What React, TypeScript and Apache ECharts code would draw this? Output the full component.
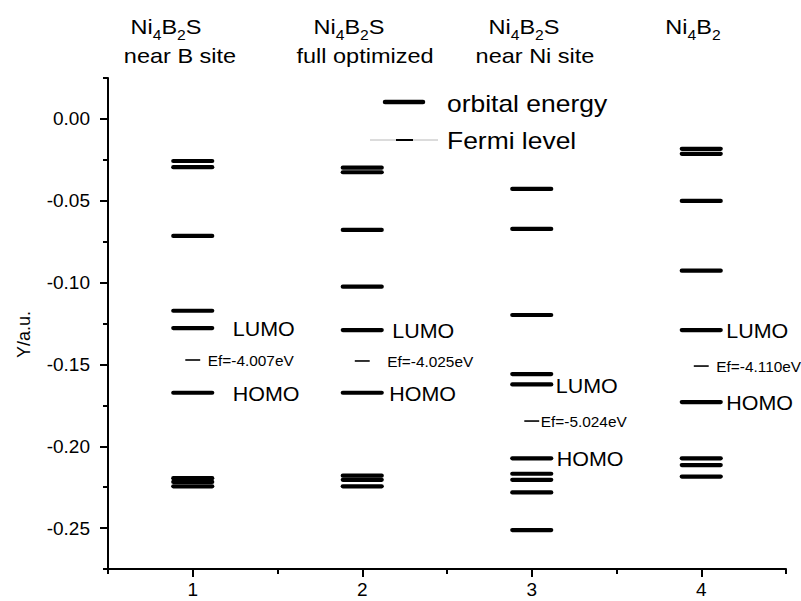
import React, { useEffect, useRef } from "react";
import * as echarts from "echarts";

// ---------------- data (Y in a.u. / hartree) ----------------
const columns = [1, 2, 3, 4];

const levelsNearB = [-0.0257, -0.0295, -0.0715, -0.1172, -0.1278, -0.1673, -0.2195, -0.2218, -0.2245];
const levelsFullOpt = [-0.0298, -0.0326, -0.0678, -0.1025, -0.129, -0.1673, -0.218, -0.2205, -0.2245];
const levelsNearNi = [-0.0428, -0.0672, -0.1198, -0.1559, -0.1622, -0.2074, -0.2168, -0.2205, -0.2282, -0.2512];
const levelsNi4B2 = [-0.0183, -0.0213, -0.0501, -0.0927, -0.129, -0.173, -0.2074, -0.2115, -0.2185];

const lumoLevels = [-0.1278, -0.129, -0.1622, -0.129];
const homoLevels = [-0.1673, -0.1673, -0.2074, -0.173];
const fermiLevels = [-0.1473, -0.1479, -0.1846, -0.151];
const fermiLabels = ["Ef=-4.007eV", "Ef=-4.025eV", "Ef=-5.024eV", "Ef=-4.110eV"];

const titleFormulas = [
  "{m|Ni}{s|4}{m|B}{s|2}{m|S}",
  "{m|Ni}{s|4}{m|B}{s|2}{m|S}",
  "{m|Ni}{s|4}{m|B}{s|2}{m|S}",
  "{m|Ni}{s|4}{m|B}{s|2}",
];
const titleNotes = ["near B site", "full optimized", "near Ni site"];
const legendNames = ["orbital energy", "Fermi level"];

const yTickValues = [0, -0.05, -0.1, -0.15, -0.2, -0.25];
const yMinorTickValues = [0.025, -0.025, -0.075, -0.125, -0.175, -0.225, -0.275];
const xTickValues = [1, 2, 3, 4];
const xMinorTickValues = [0.5, 1.5, 2.5, 3.5, 4.5];
const yAxisName = "Y/a.u.";

// ---------------- styles / layout ----------------
const FONT = "'Liberation Sans', Arial, Helvetica, sans-serif";
const LEVEL_HALF = 0.115;
const FERMI_HALF = 0.044;
const SX = 1.12;
const lumoDx = [40, 30, 24, 25];
const homoDx = [40, 27, 25, 25];
const efDx = [15, 25, 9, 15];
const titleX1 = [166, 349, 524, 693];
const titleX2 = [180, 365, 535];

const allLevels = [levelsNearB, levelsFullOpt, levelsNearNi, levelsNi4B2];
const levelData: number[][] = [];
columns.forEach((c, i) => allLevels[i].forEach((v) => levelData.push([c, v])));
const fermiData = columns.map((c, i) => [c, fermiLevels[i]]);
const frontierData: number[][] = [];
const frontierText: string[] = [];
const frontierDx: number[] = [];
columns.forEach((c, i) => {
  frontierData.push([c, lumoLevels[i]]);
  frontierText.push("LUMO");
  frontierDx.push(lumoDx[i]);
  frontierData.push([c, homoLevels[i]]);
  frontierText.push("HOMO");
  frontierDx.push(homoDx[i]);
});

const axisLineStyle = { color: "#000", width: 2 };

function buildOption(): any {
  const graphic: any[] = [];
  titleFormulas.forEach((t, i) => {
    graphic.push({
      type: "text",
      x: titleX1[i],
      y: 27,
      scaleX: SX,
      style: {
        text: t,
        align: "center",
        verticalAlign: "middle",
        fill: "#000",
        fontFamily: FONT,
        rich: {
          m: { fontSize: 21, lineHeight: 26, fontFamily: FONT, fill: "#000" },
          s: { fontSize: 14, lineHeight: 14, padding: [16, 0, 0, 0], fontFamily: FONT, fill: "#000" },
        },
      },
    });
  });
  titleNotes.forEach((t, i) => {
    graphic.push({
      type: "text",
      x: titleX2[i],
      y: 56,
      scaleX: SX,
      style: { text: t, align: "center", verticalAlign: "middle", fill: "#000", fontSize: 21, fontFamily: FONT },
    });
  });
  // legend
  graphic.push({
    type: "line",
    shape: { x1: 385, y1: 102, x2: 423, y2: 102 },
    style: { stroke: "#000", lineWidth: 4.5, lineCap: "round" },
  });
  graphic.push({
    type: "text",
    x: 447,
    y: 104,
    scaleX: 1.15,
    style: { text: legendNames[0], align: "left", verticalAlign: "middle", fill: "#000", fontSize: 23, fontFamily: FONT },
  });
  graphic.push({
    type: "line",
    shape: { x1: 370, y1: 140, x2: 438, y2: 140 },
    style: { stroke: "#b8b8b8", lineWidth: 1 },
  });
  graphic.push({
    type: "line",
    shape: { x1: 396, y1: 140, x2: 413, y2: 140 },
    style: { stroke: "#000", lineWidth: 2 },
  });
  graphic.push({
    type: "text",
    x: 447,
    y: 141,
    scaleX: 1.15,
    style: { text: legendNames[1], align: "left", verticalAlign: "middle", fill: "#000", fontSize: 23, fontFamily: FONT },
  });

  return {
    animation: false,
    backgroundColor: "#fff",
    textStyle: { fontFamily: FONT },
    grid: { left: 108, right: 15, top: 78, bottom: 32, containLabel: false, outerBoundsMode: "none" },
    xAxis: [
      {
        type: "value",
        min: 0.5,
        max: 4.5,
        position: "bottom",
        axisLine: { show: true, onZero: false, lineStyle: axisLineStyle },
        axisTick: { show: true, customValues: xTickValues, length: 8, lineStyle: axisLineStyle },
        axisLabel: { show: true, customValues: xTickValues, margin: 11, fontSize: 19, color: "#000", fontFamily: FONT },
        splitLine: { show: false },
      },
      {
        type: "value",
        min: 0.5,
        max: 4.5,
        position: "bottom",
        axisLine: { show: false, onZero: false },
        axisTick: { show: true, customValues: xMinorTickValues, length: 5, lineStyle: axisLineStyle },
        axisLabel: { show: false },
        splitLine: { show: false },
      },
    ],
    yAxis: [
      {
        type: "value",
        min: -0.275,
        max: 0.025,
        position: "left",
        name: yAxisName,
        nameLocation: "middle",
        nameGap: 75,
        nameTextStyle: { fontSize: 18, color: "#000", fontFamily: FONT, padding: [0, 22, 0, 0] },
        axisLine: { show: true, onZero: false, lineStyle: axisLineStyle },
        axisTick: { show: true, customValues: yTickValues, length: 8, lineStyle: axisLineStyle },
        axisLabel: {
          show: true,
          customValues: yTickValues,
          margin: 18,
          fontSize: 19,
          color: "#000",
          fontFamily: FONT,
          formatter: (v: number) => v.toFixed(2),
        },
        splitLine: { show: false },
      },
      {
        type: "value",
        min: -0.275,
        max: 0.025,
        position: "left",
        axisLine: { show: false, onZero: false },
        axisTick: { show: true, customValues: yMinorTickValues, length: 5, lineStyle: axisLineStyle },
        axisLabel: { show: false },
        splitLine: { show: false },
      },
    ],
    series: [
      {
        type: "custom",
        name: legendNames[0],
        xAxisIndex: 0,
        yAxisIndex: 0,
        data: levelData,
        encode: { x: 0, y: 1 },
        renderItem: (params: any, api: any) => {
          const x = api.value(0);
          const y = api.value(1);
          const a = api.coord([x - LEVEL_HALF, y]);
          const b = api.coord([x + LEVEL_HALF, y]);
          return {
            type: "line",
            shape: { x1: a[0], y1: a[1], x2: b[0], y2: b[1] },
            style: { stroke: "#000", lineWidth: 4.2, lineCap: "round" },
          };
        },
      },
      {
        type: "custom",
        name: legendNames[1],
        xAxisIndex: 0,
        yAxisIndex: 0,
        data: fermiData,
        encode: { x: 0, y: 1 },
        renderItem: (params: any, api: any) => {
          const x = api.value(0);
          const y = api.value(1);
          const a = api.coord([x - FERMI_HALF, y]);
          const b = api.coord([x + FERMI_HALF, y]);
          const c = api.coord([x, y]);
          const i = params.dataIndex;
          return {
            type: "group",
            children: [
              {
                type: "line",
                shape: { x1: a[0], y1: a[1], x2: b[0], y2: b[1] },
                style: { stroke: "#000", lineWidth: 1.6 },
              },
              {
                type: "text",
                x: c[0] + efDx[i],
                y: c[1] + 1,
                scaleX: 1.1,
                style: {
                  text: fermiLabels[i],
                  align: "left",
                  verticalAlign: "middle",
                  fill: "#000",
                  fontSize: 14,
                  fontFamily: FONT,
                },
              },
            ],
          };
        },
      },
      {
        type: "custom",
        name: "frontier labels",
        xAxisIndex: 0,
        yAxisIndex: 0,
        data: frontierData,
        encode: { x: 0, y: 1 },
        renderItem: (params: any, api: any) => {
          const x = api.value(0);
          const y = api.value(1);
          const c = api.coord([x, y]);
          const i = params.dataIndex;
          return {
            type: "text",
            x: c[0] + frontierDx[i],
            y: c[1] + 1,
            scaleX: 1.1,
            style: {
              text: frontierText[i],
              align: "left",
              verticalAlign: "middle",
              fill: "#000",
              fontSize: 19.5,
              fontFamily: FONT,
            },
          };
        },
      },
    ],
    graphic,
  };
}

export default function App() {
  const ref = useRef<HTMLDivElement>(null);
  useEffect(() => {
    if (!ref.current) return;
    const chart = echarts.init(ref.current, null, { renderer: "svg" });
    chart.setOption(buildOption());
    return () => chart.dispose();
  }, []);
  return (
    <div
      ref={ref}
      style={{ position: "fixed", left: 0, top: 0, width: 801, height: 601, background: "#fff" }}
    />
  );
}
